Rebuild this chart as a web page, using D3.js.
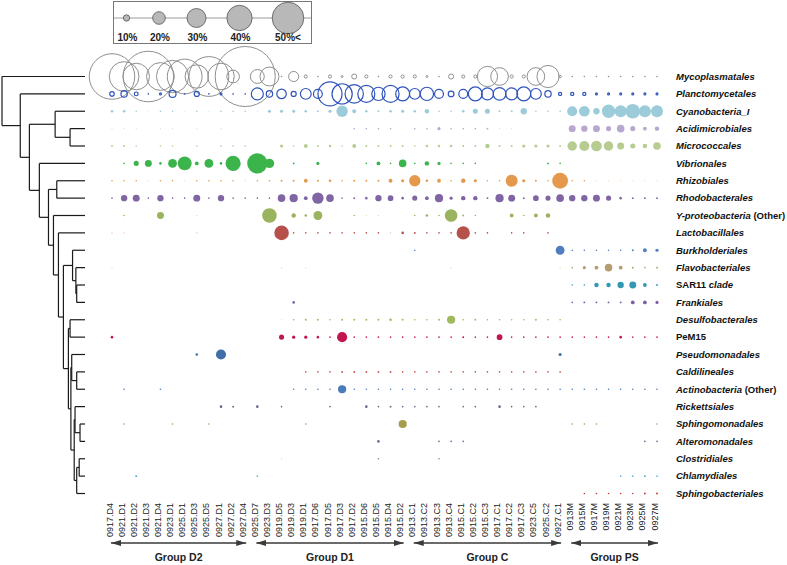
<!DOCTYPE html>
<html><head><meta charset="utf-8">
<script src="https://cdn.jsdelivr.net/npm/d3@7"></script>
<style>
body{margin:0;background:#fff;}
svg{display:block;font-family:"Liberation Sans",Arial,sans-serif;}
</style></head><body>
<svg id="chart" width="787" height="565"></svg>
<script>
// ---------- DATA ----------
const columns = ["0917.D4","0921.D1","0921.D2","0921.D3","0921.D4","0923.D1","0925.D1","0925.D3","0925.D5","0927.D1","0927.D2","0927.D4",
  "0925.D7","0923.D3","0919.D5","0919.D3","0919.D1","0917.D6","0917.D5","0917.D3","0917.D2","0915.D6","0915.D5","0915.D4","0915.D2",
  "0913.C1","0913.C2","0913.C3","0913.C4","0915.C1","0915.C2","0915.C3","0917.C1","0917.C2","0917.C3","0923.C5","0925.C2","0927.C1",
  "0913M","0915M","0917M","0919M","0921M","0923M","0925M","0927M"];
const groups = ["Group D2","Group D1","Group C","Group PS"];
const groupFirst = ["0917.D4","0925.D7","0913.C1","0913M"];
const groupLast  = ["0927.D4","0915.D2","0927.C1","0927M"];
const rows = ["Mycoplasmatales","Planctomycetales","Cyanobacteria_I","Acidimicrobiales","Micrococcales","Vibrionales","Rhizobiales",
  "Rhodobacterales","Y-proteobacteria (Other)","Lactobacillales","Burkholderiales","Flavobacteriales","SAR11 clade","Frankiales",
  "Desulfobacterales","PeM15","Pseudomonadales","Caldilineales","Actinobacteria (Other)","Rickettsiales","Sphingomonadales",
  "Alteromonadales","Clostridiales","Chlamydiales","Sphingobacteriales"];
// label markup: *italic*
const rowLabels = ["*Mycoplasmatales*","*Planctomycetales*","*Cyanobacteria_I*","*Acidimicrobiales*","*Micrococcales*","*Vibrionales*","*Rhizobiales*",
  "*Rhodobacterales*","*Y-proteobacteria* (Other)","*Lactobacillales*","*Burkholderiales*","*Flavobacteriales*","SAR11 *clade*","*Frankiales*",
  "*Desulfobacterales*","PeM15","*Pseudomonadales*","*Caldilineales*","*Actinobacteria* (Other)","*Rickettsiales*","*Sphingomonadales*",
  "*Alteromonadales*","*Clostridiales*","*Chlamydiales*","*Sphingobacteriales*"];
const legendValues = [10,20,30,40,50];
const legendLabels = ["10%","20%","30%","40%","50%<"];

// relative abundance (%) per order, one value per sample column
const mycoplasmatales   = [72,47,42,80,44,51,55,37,63,42,20,95, 22,30,2,16,5,2,5,3,8,5,2,5,5, 5,3,1,8,5,5,32,28,5,5,28,35,4, 1,1,1,1,1,1,1,1];
const planctomycetales  = [7,10,6,1,3,11,2,8,2,3,2,2, 19,10,15,8,17,14,38,32,29,27,21,27,22, 17,21,14,9,14,22,19,20,19,22,17,10,5, 5,5,3,3,3,3,3,3];
const cyanobacteria     = [4,4,1,0.5,2,2,0.5,2,0.5,2,1,1, 0.5,5,5,5,4,3,5,18,6,4,3,4,5, 4,7,1.5,1,4,8,8,3,3,10,1,2,2, 16,17,10,21,19,23,19,19];
const acidimicrobiales  = [0.5,0.5,0.5,0,0.5,0.5,0,0.5,0,0.5,0,0, 0,0,0,0,0,0,0,0,1,1,1,1,0, 1,1,5,1,1,1,3,0.5,0.5,0,0,0,0, 11,10,11,8,12,8,6,7];
const micrococcales     = [3,3,1,0,1,1,0,1,0,1,1,1, 0,0,5,2,6,3,4,1,6,3,3,3,3, 2,4,4,4,3,3,7,3,3,5,5,5,3, 15,16,17,15,11,8,7,12];
const vibrionales       = [0,1,8,11,4,14,22,6,14,4,24,0, 32,15,0,3,0,5,0,0,0,1,6,1,12, 1,7,5,1,1,1,0,0,0,0,0,3,1, 0,0,0,0,0,0,0,0];
const rhizobiales       = [1,2,2,0.5,2,1,0.5,2,1,1,2,0.5, 1,1,3,3,6,3,4,2,3,3,3,6,5, 18,4,6,2,7,5,2,2,19,5,3,2,25, 1,1,0.5,0.5,0.5,0.5,0.5,0.5];
const rhodobacterales   = [2,10,11,1,10,1,2,11,2,10,1,1, 2,2,12,13,6,18,12,2,3,4,10,9,4, 8,6,13,5,7,7,3,13,11,3,9,8,12, 10,10,11,8,4,3,3,3];
const yProteobacteria   = [0,1,0,0,11,0,0,0.5,0,0,0,0, 0,23,0,7,4,14,0,0,1,0.5,0.5,0,0, 1,4,2,20,3,1,0,0,6,2,6,7,0, 0,0,0,0,0,0,0,0];
const lactobacillales   = [0.5,0.5,0,0,0,0,0,0.5,0,0,0,0, 0,0,23,2,2,2,1,1,1,1,1,0.5,4, 3,1,1,2,21,1,1,0,2,1,0,1,0, 0,0,0,0,0,0,0,0];
const burkholderiales   = [0,0,0,0,0,0,0,0,0,0,0,0, 0,0,0,0,0,0,0,0,0,0,0,0,0, 2,0,0,0,0,0,0,0,0,0,0,0,14, 2,2,2,2,2,3,6,5];
const flavobacteriales  = [0.5,0,0,0,0,0,0,0,0,0,0,0, 0,0,0.5,0,0.5,0,0,0,0,0,0,0,0, 0,0,0,0.5,0,0,0,0,0,0,0,0,0.5, 2,5,6,12,6,3,2,3];
const sar11             = [0,0,0,0,0,0,0,0,0,0,0,0, 0,0,0,0,0,0,0,0,0,0,0,0,0, 0,0,0,0,0,0,0,0,0,0,0,0,0, 1,2,7,7,10,11,6,3];
const frankiales        = [0,0,0,0,0,0,0,0,0,0,0,0, 0,0,0,4,0,0,0,0,0,0,0,0,0, 0,0,0,0,0,0,0,0,0,0,0,0,0, 2,3,3,3,3,6,6,5];
const desulfobacterales = [0,0,0,0,0,0,0,0,0,0,0,0, 0,0,0.5,2,3,3,2,3,3,3,3,4,3, 1,2,3,13,2,3,2,1,2,2,3,2,1, 0,0,0,0,0,0,0,0];
const pem15             = [4,0,0,0,0,0,0,0,0,0,0,0, 0,0,8,5,5,4,2,16,1,2,2,2,1, 1,1,1,2,3,2,2,9,2,1,2,1,1, 1,2,2,2,4,2,1,1];
const pseudomonadales   = [0,0,0,0,0,0,0,4,0,16,0,0, 0,0,0,0,0,0,0,0,0,0,0,0,0, 0,0,0,0,0,0,0,0,0,0,0,0,5, 0,0,0,0,0,0,0,0];
const caldilineales     = [0,0,0,0,0,0,0,0,0,0,0,0, 0,0,0,0,1,1,2,3,3,3,3,3,2, 2,2,1,1,2,2,2,2,1,2,2,2,1, 0,0,0,0,0,0,0,0];
const actinobacteria    = [0,1,0,0,1,0,0,0,0,0,0,0, 0,0,0,1,1,2,2,13,2,2,2,2,2, 1,1,1,2,1,1,1,2,1,1,1,1,1, 1,1,1,1,1,1,1,2];
const rickettsiales     = [0,0,0,0,0,0,0,0,0,4,3,0, 4,0,1,0,0,0,2,0,0,4,2,3,1, 2,2,2,0,2,1,0,4,2,2,1,0,0, 0,0,0,0,0,0,0,0];
const sphingomonadales  = [0,1,0,0,0,1,0,0,1,0,0,0, 0,0,0,0,1,0,0,0,0,0,0,0,13, 0,0,0,0,0,0,0,0,0,0,0,0,0, 1,1,1,0,0,0,0,1];
const alteromonadales   = [0,0,0,0,0,0,0,0,0,0,0,0, 0,0,0,0,0,0,0,0,0,0,4,0,0, 0,0,2,1,1,0,0,0,0,0,0,0,0, 0,0,0,0,0,0,1,2];
const clostridiales     = [0,0,0,0,0,0,0,0,0,0,0,0, 0,0,0.5,0,0,0,0,0,0,0,1,0,0, 0,0,1,0,0,0,0,0,0,0,0,0,0, 0,0,0,0,0,0,0,0];
const chlamydiales      = [0,0,3,0,0,0,0,0,0,0,0,0, 2,0,0,0,0,0,0,0,0,0,0,0,0, 0,0,0,0,0,0,0,0,0,0,0,0,0, 0,0,0,0,2,1,3,1];
const sphingobacteriales= [0,0,0,0,0,0,0,0,0,0,0,0, 0,0,0,0,0,0,0,0,0,0,0,0,0, 0,0,0,0,0,0,0,0,0,0,0,0,0, 0,1,1,1,1.5,1.5,3,3];

const series = [mycoplasmatales,planctomycetales,cyanobacteria,acidimicrobiales,micrococcales,vibrionales,rhizobiales,
  rhodobacterales,yProteobacteria,lactobacillales,burkholderiales,flavobacteriales,sar11,frankiales,desulfobacterales,pem15,
  pseudomonadales,caldilineales,actinobacteria,rickettsiales,sphingomonadales,alteromonadales,clostridiales,chlamydiales,sphingobacteriales];

// dendrogram: merge distances (0 = leaves, 1 = root)
const dendrogram = {d:1.0, c:["Mycoplasmatales", {d:0.78, c:["Planctomycetales", {d:0.67, c:[
  {d:0.36, c:["Cyanobacteria_I", {d:0.18, c:["Acidimicrobiales","Micrococcales"]}]},
  {d:0.55, c:["Vibrionales", {d:0.44, c:[
    {d:0.34, c:["Rhizobiales","Rhodobacterales"]},
    {d:0.38, c:["Y-proteobacteria (Other)", {d:0.32, c:["Lactobacillales", {d:0.26, c:[
      {d:0.15, c:["Burkholderiales", {d:0.11, c:["Flavobacteriales", {d:0.10, c:["SAR11 clade","Frankiales"]}]}]},
      {d:0.20, c:[
        {d:0.18, c:["Desulfobacterales","PeM15"]},
        {d:0.17, c:[
          {d:0.16, c:["Pseudomonadales", {d:0.10, c:["Caldilineales","Actinobacteria (Other)"]}]},
          {d:0.13, c:[
            {d:0.12, c:["Rickettsiales", {d:0.06, c:["Sphingomonadales","Alteromonadales"]}]},
            {d:0.10, c:[{d:0.07, c:["Clostridiales","Chlamydiales"]}, "Sphingobacteriales"]}
          ]}
        ]}
      ]}
    ]}]}]}
  ]}]}
]}]}]};

// ---------- STYLE ----------
const rowFill = ["none","none","#9ccbd9","#b8a7cf","#b6cc90","#3cb44c","#e5994d","#8064a3","#9ab35f","#b5504a",
  "#4f7dbd","#b59d72","#3399b3","#7c5fa8","#9fba5c","#c2154f","#3f6fa8","#c24d48","#4b7bbb","#5b6580",
  "#a89d4c","#6d5d92","#888888","#4bacc6","#c23b33"];
const rowStroke = ["#8f8f8f","#2f54bb"];

const svg = d3.select("#chart");
const x = d3.scalePoint().domain(columns).range([112, 657]);
const y = d3.scalePoint().domain(rows).range([76.5, 493.5]);
const r = d3.scaleLinear().domain([0, 50]).range([0, 15.8]);
const dx = d3.scaleLinear().domain([0, 1]).range([85, 2]);

// ---------- LEGEND ----------
const lg = svg.append("g");
lg.append("rect").attr("x",113.5).attr("y",1.5).attr("width",198).attr("height",42)
  .attr("fill","#fff").attr("stroke","#777").attr("stroke-width",1);
lg.append("line").attr("x1",114).attr("x2",311).attr("y1",18).attr("y2",18).attr("stroke","#9a9a9a").attr("stroke-width",1);
const legPos = [126.5, 159, 196.5, 239.5, 288];
lg.selectAll("circle.lc").data(legendValues).join("circle").attr("class","lc")
  .attr("cx",(d,i)=>legPos[i]).attr("cy",18).attr("r",d=>r(d))
  .attr("fill","#b8b8b8").attr("stroke","#555").attr("stroke-width",0.8);
lg.selectAll("text").data(legendLabels).join("text")
  .attr("x",(d,i)=>legPos[i] + (i===4?0:1)).attr("y",40.5).attr("text-anchor","middle")
  .attr("font-size",10).attr("font-weight","bold").attr("fill","#222").text(d=>d);

// ---------- DENDROGRAM ----------
const dg = svg.append("g").attr("stroke","#1a1a1a").attr("stroke-width",1.2).attr("fill","none");
function drawNode(n){
  if (typeof n === "string") return {x: dx(0), y: y(n)};
  const kids = n.c.map(drawNode);
  const nx = dx(n.d);
  const ny = (kids[0].y + kids[kids.length-1].y)/2;
  dg.append("line").attr("x1",nx).attr("x2",nx).attr("y1",kids[0].y).attr("y2",kids[kids.length-1].y);
  kids.forEach(k => dg.append("line").attr("x1",nx).attr("x2",k.x).attr("y1",k.y).attr("y2",k.y));
  return {x: nx, y: ny};
}
drawNode(dendrogram);

// ---------- BUBBLES ----------
const cells = [];
rows.forEach((row, i) => series[i].forEach((v, j) => { if (v > 0) cells.push({row, i, col: columns[j], v}); }));
const bg = svg.append("g");
bg.selectAll("circle").data(cells).join("circle")
  .attr("cx", d => x(d.col)).attr("cy", d => y(d.row)).attr("r", d => Math.max(r(d.v), d.v < 1 ? 0.6 : 0.8))
  .attr("fill", d => rowFill[d.i] === "none" ? (d.v <= 2 ? rowStroke[d.i] : "none") : rowFill[d.i])
  .attr("stroke", d => d.i < 2 && d.v > 2 ? rowStroke[d.i] : "none")
  .attr("stroke-width", d => d.i === 1 ? 1.2 : 1)
  .attr("fill-opacity", d => d.v < 1 ? 0.45 : 1)
  .attr("stroke-opacity", d => d.v < 1 ? 0.5 : 1);

// ---------- ROW LABELS ----------
const rl = svg.append("g").attr("font-size",9.5).attr("font-weight","bold").attr("fill","#111");
rows.forEach((row, i) => {
  const t = rl.append("text").attr("x",676).attr("y",y(row)).attr("dy","0.35em");
  rowLabels[i].split(/(\*[^*]+\*)/).filter(s=>s.length).forEach(part => {
    const it = part.startsWith("*");
    t.append("tspan").attr("font-style", it ? "italic" : "normal").text(it ? part.slice(1,-1) : part);
  });
});

// ---------- X AXIS ----------
const ax = svg.append("g").attr("transform","translate(0,502)")
  .call(d3.axisBottom(x).tickSize(0).tickPadding(0));
ax.select(".domain").remove();
ax.selectAll("text").attr("transform","rotate(-90)").attr("text-anchor","end")
  .attr("x",-1).attr("y",0).attr("dy","0").attr("font-size",9)
  .attr("font-family","'Liberation Sans',Arial,sans-serif").attr("fill","#222");

// ---------- GROUP ARROWS ----------
const defs = svg.append("defs");
defs.append("marker").attr("id","ah").attr("viewBox","0 0 10 6").attr("refX",10).attr("refY",3)
  .attr("markerWidth",10).attr("markerHeight",6).attr("markerUnits","userSpaceOnUse").attr("orient","auto-start-reverse")
  .append("path").attr("d","M0,0 L10,3 L0,6 Z").attr("fill","#3a3a3a");
const gg = svg.append("g");
groups.forEach((g, i) => {
  const x0 = x(groupFirst[i]) - 1, x1 = x(groupLast[i]) + 1;
  gg.append("line").attr("x1",x0).attr("x2",x1).attr("y1",543).attr("y2",543)
    .attr("stroke","#3a3a3a").attr("stroke-width",1.3)
    .attr("marker-start","url(#ah)").attr("marker-end","url(#ah)");
  gg.append("text").attr("x",(x0+x1)/2).attr("y",561).attr("text-anchor","middle")
    .attr("font-size",10.5).attr("font-weight","bold").attr("fill","#222").text(g);
});
</script></body></html>
